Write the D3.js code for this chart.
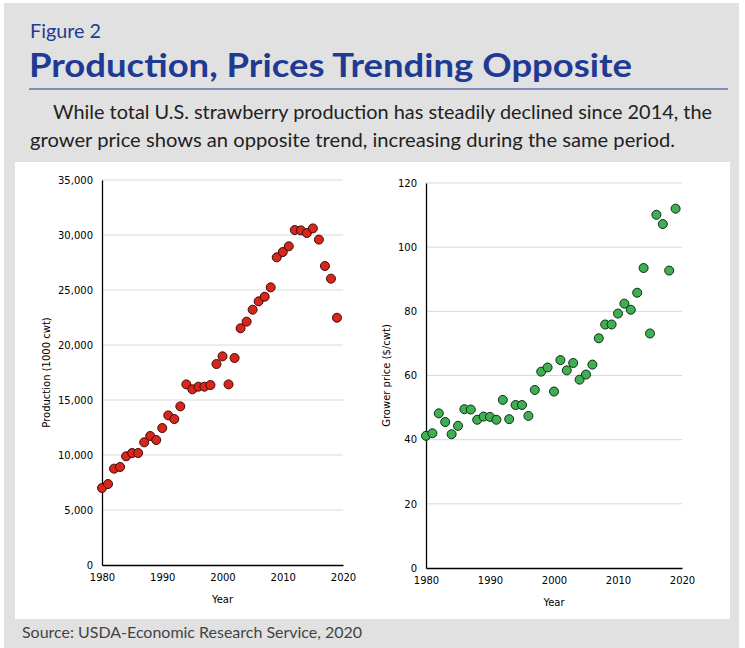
<!DOCTYPE html>
<html>
<head>
<meta charset="utf-8">
<script src="https://cdn.jsdelivr.net/npm/d3@7"></script>
<style>
  body { margin: 0; background: #fff; }
  svg { display: block; }
</style>
</head>
<body>
<div id="chart"></div>
<script>
// values
const years = d3.range(1980, 2020);
const production = [
  7000, 7360, 8760, 8910, 9880, 10180, 10180, 11150, 11730, 11360,
  12450, 13600, 13270, 14420, 16420, 15970, 16210, 16210, 16360, 18270,
  18970, 16420, 18820, 21520, 22120, 23210, 23970, 24390, 25240, 27970,
  28450, 28970, 30450, 30420, 30180, 30600, 29580, 27180, 26030, 22480
];
const price = [
  41.2, 42.0, 48.2, 45.5, 41.7, 44.3, 49.5, 49.4, 46.2, 47.2,
  47.1, 46.2, 52.4, 46.4, 50.8, 50.8, 47.4, 55.5, 61.2, 62.5,
  55.0, 64.8, 61.6, 63.9, 58.7, 60.3, 63.4, 71.6, 75.9, 75.9,
  79.3, 82.4, 80.5, 85.8, 93.5, 73.1, 110.1, 107.2, 92.7, 112.0
];
const xTicks = [1980, 1990, 2000, 2010, 2020];
const prodTicks = [0, 5000, 10000, 15000, 20000, 25000, 30000, 35000];
const priceTicks = [0, 20, 40, 60, 80, 100, 120];

const subtitle = [
  "While total U.S. strawberry production has steadily declined since 2014, the",
  "grower price shows an opposite trend, increasing during the same period."
];

const width = 745, height = 648;
const svg = d3.select("#chart").append("svg")
  .attr("width", width).attr("height", height);

// backgrounds
svg.append("rect").attr("x", 4).attr("y", 3).attr("width", 735).attr("height", 645)
  .attr("fill", "#e1e1e1");
svg.append("rect").attr("x", 15).attr("y", 162).attr("width", 715).attr("height", 457)
  .attr("fill", "#fff");

// header
svg.append("text").attr("x", 30).attr("y", 38)
  .attr("font-family", "Lato").attr("font-size", 19).attr("fill", "#1f3a93")
  .attr("textLength", 71).attr("lengthAdjust", "spacingAndGlyphs")
  .text("Figure 2");
svg.append("text").attr("x", 29).attr("y", 77)
  .attr("font-family", "Lato").attr("font-weight", "bold").attr("font-size", 33)
  .attr("fill", "#1f3a93")
  .attr("textLength", 603).attr("lengthAdjust", "spacingAndGlyphs")
  .text("Production, Prices Trending Opposite");
svg.append("line").attr("x1", 29).attr("x2", 728).attr("y1", 89).attr("y2", 89)
  .attr("stroke", "#1f3a93").attr("stroke-width", 1.2);
svg.append("text").attr("x", 53).attr("y", 119)
  .attr("font-family", "Lato").attr("font-size", 19).attr("fill", "#222")
  .attr("textLength", 659).attr("lengthAdjust", "spacingAndGlyphs")
  .text(subtitle[0]);
svg.append("text").attr("x", 30).attr("y", 147)
  .attr("font-family", "Lato").attr("font-size", 19).attr("fill", "#222")
  .attr("textLength", 645).attr("lengthAdjust", "spacingAndGlyphs")
  .text(subtitle[1]);

svg.append("text").attr("x", 22).attr("y", 638)
  .attr("font-family", "Lato").attr("font-size", 15).attr("fill", "#444")
  .attr("textLength", 340).attr("lengthAdjust", "spacingAndGlyphs")
  .text("Source: USDA-Economic Research Service, 2020");

function drawPanel(opts) {
  const x = d3.scaleLinear().domain([1980, 2020]).range(opts.xRange);
  const y = d3.scaleLinear().domain(opts.yDomain).range(opts.yRange);
  const g = svg.append("g").attr("font-family", "DejaVu Sans").attr("font-size", 10);

  // gridlines
  g.selectAll(".grid").data(opts.yTicks.slice(1)).join("line")
    .attr("x1", opts.xRange[0]).attr("x2", opts.xRange[1])
    .attr("y1", d => y(d)).attr("y2", d => y(d))
    .attr("stroke", "#d9d9d9").attr("stroke-width", 1);

  const yAxis = g.append("g").attr("transform", `translate(${opts.xRange[0]},0)`)
    .call(d3.axisLeft(y).tickValues(opts.yTicks).tickSize(0).tickPadding(9)
      .tickFormat(opts.yFormat));
  yAxis.select(".domain").attr("stroke", "#000").attr("stroke-width", 1.3);
  yAxis.selectAll("text").attr("font-family", "DejaVu Sans").attr("font-size", 10)
    .attr("fill", "#000");

  const xAxis = g.append("g").attr("transform", `translate(0,${opts.yRange[0]})`)
    .call(d3.axisBottom(x).tickValues(xTicks).tickSize(0).tickPadding(9)
      .tickFormat(d3.format("d")));
  xAxis.select(".domain").attr("stroke", "#000").attr("stroke-width", 1.3);
  xAxis.selectAll("text").attr("font-family", "DejaVu Sans").attr("font-size", 10)
    .attr("fill", "#000");

  g.append("text")
    .attr("x", (opts.xRange[0] + opts.xRange[1]) / 2).attr("y", opts.yRange[0] + 38)
    .attr("text-anchor", "middle").attr("fill", "#000").text("Year");
  g.append("text")
    .attr("transform", `translate(${opts.yTitleX},${(opts.yRange[0] + opts.yRange[1]) / 2}) rotate(-90)`)
    .attr("text-anchor", "middle").attr("fill", "#000").text(opts.yTitle);

  g.selectAll(".dot").data(opts.values).join("circle")
    .attr("cx", (d, i) => x(years[i]))
    .attr("cy", d => y(d))
    .attr("r", 4.5)
    .attr("fill", opts.color)
    .attr("stroke", opts.stroke)
    .attr("stroke-width", 1);
}

drawPanel({
  xRange: [102, 343],
  yRange: [565, 180],
  yDomain: [0, 35000],
  yTicks: prodTicks,
  yFormat: d3.format(","),
  values: production,
  color: "#d9261c",
  stroke: "#3b0a05",
  yTitle: "Production (1000 cwt)",
  yTitleX: 50
});

drawPanel({
  xRange: [426, 682],
  yRange: [568, 183],
  yDomain: [0, 120],
  yTicks: priceTicks,
  yFormat: d3.format("d"),
  values: price,
  color: "#3fae55",
  stroke: "#0d2e12",
  yTitle: "Grower price ($/cwt)",
  yTitleX: 390
});
</script>
</body>
</html>
